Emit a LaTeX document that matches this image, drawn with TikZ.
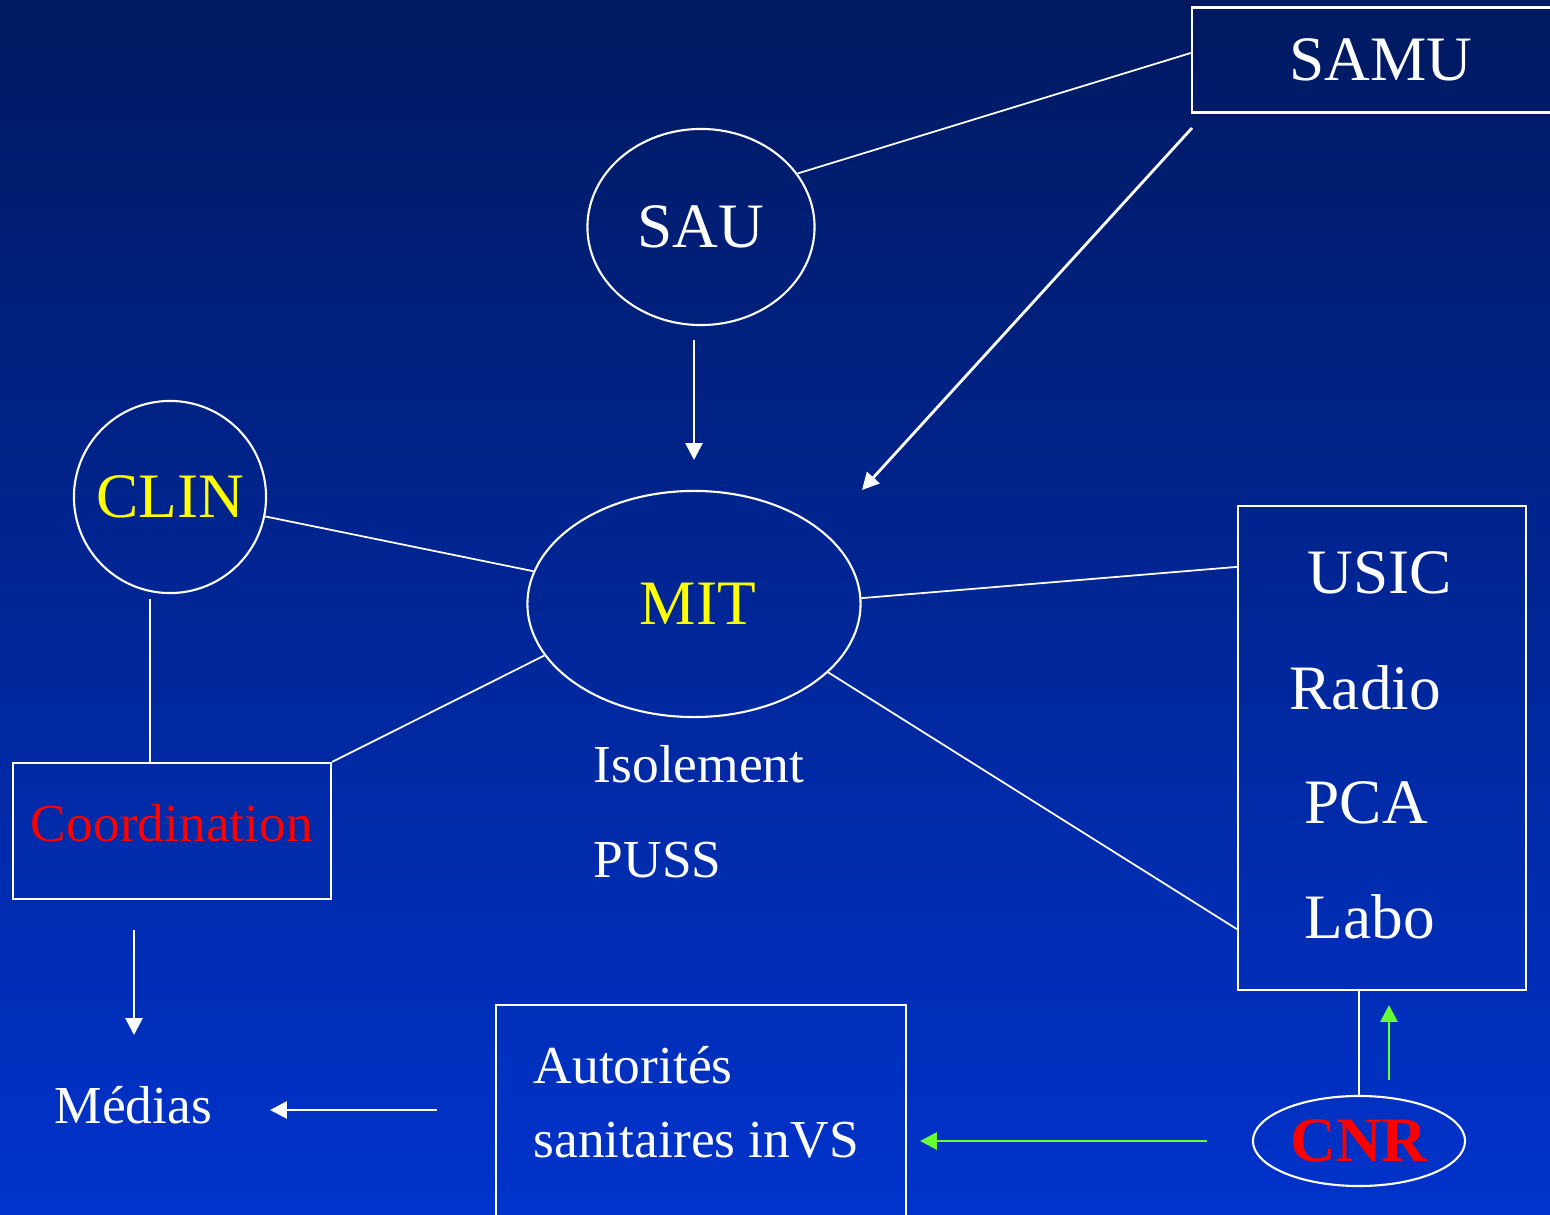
\documentclass[tikz,border=0pt]{standalone}
\usepackage{fontspec}
\setmainfont{Liberation Serif}
\usepackage{xcolor}
\usepackage{tikz}
\usetikzlibrary{arrows.meta,shapes.geometric,positioning}
\definecolor{bgtop}   {RGB}{0,25,96}
\definecolor{bgbot}   {RGB}{0,51,204}
\definecolor{mityellow}{RGB}{255,255,0}
\definecolor{cnrred}  {RGB}{255,0,0}
\definecolor{labgreen}{RGB}{102,255,51}
\tikzset{
  bigtxt/.style  ={font=\fontsize{18}{22}\selectfont, text=white, inner sep=0pt},
  smalltxt/.style={font=\fontsize{15.2}{19}\selectfont, text=white, inner sep=0pt},
  oval/.style    ={ellipse, draw=white, line width=0.6pt, inner sep=0pt,
                   font=\fontsize{18}{22}\selectfont, text=white},
  framebox/.style={rectangle, draw=white, line width=0.6pt, inner sep=0pt},
  link/.style    ={white, line width=0.5pt},
  arr/.style     ={-{Triangle[length=4.8pt,width=4.8pt]}, white, line width=0.8pt},
  garr/.style    ={-{Triangle[length=4.8pt,width=4.8pt]}, labgreen, line width=0.8pt},
}
\begin{document}
\begin{tikzpicture}[x=0.01cm, y=-0.01cm]
  \clip (0,0) rectangle (1550,1215);
  \shade[top color=bgtop, bottom color=bgbot] (0,0) rectangle (1550,1215);

  % main nodes
  \node[oval, minimum width=2.27cm, minimum height=1.96cm] (sau) at (701,227) {SAU};
  \node[oval, minimum width=3.33cm, minimum height=2.26cm, text=mityellow]
        (mit) at (694,604) {\hspace{0.08cm}MIT};
  \node[oval, circle, minimum size=1.92cm, text=mityellow] (clin) at (170,497) {CLIN};
  \node[oval, minimum width=2.12cm, minimum height=0.90cm, text=cnrred,
        font=\fontsize{18}{22}\selectfont\bfseries] (cnr) at (1359,1141) {CNR};

  \node[framebox, bigtxt, minimum width=3.78cm, minimum height=1.05cm]
        (samu) at (1381,60) {SAMU};
  \node[framebox, smalltxt, text=cnrred, text depth=4.4pt,
        minimum width=3.18cm, minimum height=1.36cm] (coord) at (172,831) {Coordination};
  \node[framebox, minimum width=2.88cm, minimum height=4.84cm] (unit) at (1382,748) {};
  \node[framebox, minimum width=4.09cm, minimum height=2.5cm] (auth) at (701,1130) {};

  % texts
  \node[bigtxt, anchor=base west] (usic)  at (1307,593) {USIC};
  \node[bigtxt, anchor=base west] (radio) at (1289,709) {Radio};
  \node[bigtxt, anchor=base west] (pca)   at (1304,823) {PCA};
  \node[bigtxt, anchor=base west] (labo)  at (1304,938) {Labo};
  \node[smalltxt, anchor=base west] (isol) at (593,782) {Isolement};
  \node[smalltxt, anchor=base west] (puss) at (593,877) {PUSS};
  \node[smalltxt, anchor=base west] (aut1) at (533,1083) {Autorités};
  \node[smalltxt, anchor=base west] (aut2) at (533,1157) {sanitaires inVS};
  \node[smalltxt, anchor=base west] (medias) at (54,1123) {Médias};

  % arrow ends
  \coordinate (sauout)  at (694,340);  \coordinate (mitin1) at (694,460);
  \coordinate (samuout) at (1192,128); \coordinate (mitin2) at (862,490);
  \coordinate (coordout) at (134,930); \coordinate (medin1) at (134,1035);
  \coordinate (authout) at (437,1110); \coordinate (medin2) at (270,1110);
  \coordinate (cnrout1) at (1207,1141); \coordinate (authin) at (920,1141);
  \coordinate (cnrout2) at (1389,1080); \coordinate (unitin) at (1389,1005);

  % links
  \draw[link] (sau.29) -- ([yshift=0.07cm]samu.west);
  \draw[link] (clin) -- (mit);
  \draw[link] ([xshift=-0.2cm,yshift=-0.05cm]clin.south) -- ([xshift=-0.22cm]coord.north);
  \draw[link] (coord.north east) -- (mit.199);
  \draw[link] (mit.2) -- ([yshift=1.81cm]unit.west);
  \draw[link] (mit.-27) -- ([yshift=-1.81cm]unit.west);
  \draw[link] (cnr.north) -- (cnr.north |- unit.south);

  \draw[arr] (sauout) -- (mitin1);
  \draw[arr] (samuout) -- (mitin2);
  \draw[arr] (coordout) -- (medin1);
  \draw[arr] (authout) -- (medin2);
  \draw[garr] (cnrout1) -- (authin);
  \draw[garr] (cnrout2) -- (unitin);
\end{tikzpicture}
\end{document}
